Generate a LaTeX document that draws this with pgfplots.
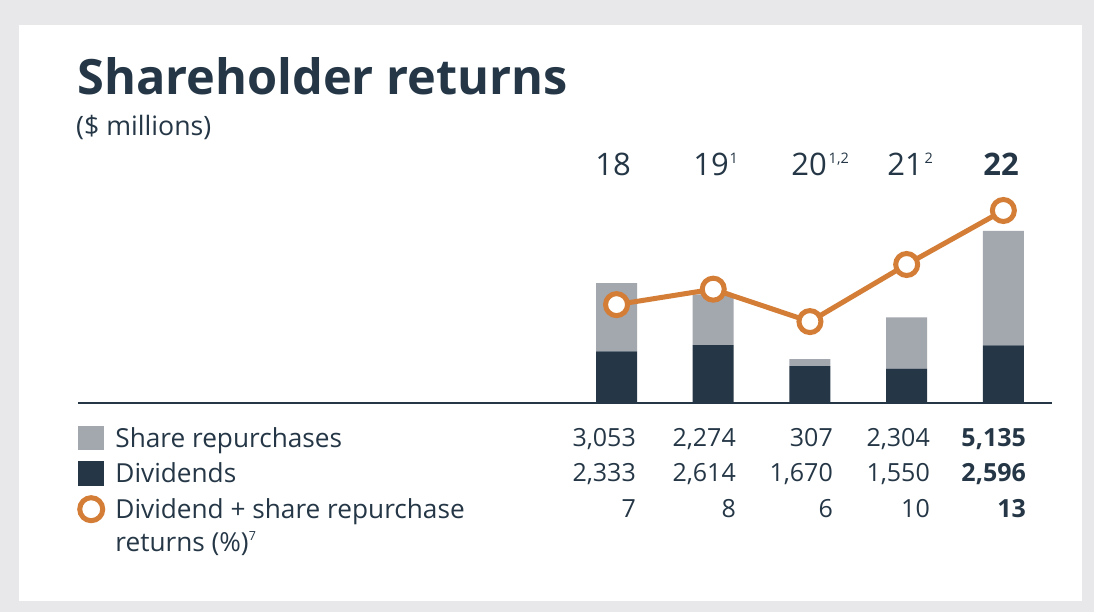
\documentclass[border=0pt]{standalone}
\usepackage{fontspec}
\setmainfont{Open Sans}
\usepackage{pgfplots}
\pgfplotsset{compat=1.18}

\definecolor{navy}{HTML}{253746}
\definecolor{barGrey}{HTML}{A3A7AE}
\definecolor{accent}{HTML}{D37D36}
\definecolor{bg}{HTML}{E8E8EA}

% small raised superscript: size, raise, text
\newcommand\sups[3]{\raisebox{#2}{\fontsize{#1}{#1}\selectfont #3}}

\begin{document}
\begin{tikzpicture}[x=1pt,y=1pt]
  % page and panel
  \fill[bg] (0,0) rectangle (1094,612);
  \fill[white] (19,11) rectangle (1082,587);

  % title
  \node[anchor=base west, inner sep=0, text=navy,
        font=\fontsize{48.7}{50}\selectfont\bfseries] at (77,517) {Shareholder returns};
  \node[anchor=base west, inner sep=0, text=navy,
        font=\fontsize{26.7}{30}\selectfont] at (76,476) {(\$ millions)};

  % bars: dividends + share repurchases ($ millions)
  \begin{axis}[
      at={(78pt,208.7pt)}, anchor=south west,
      scale only axis,
      width=973.7pt, height=263pt,
      xmin=-5.569, xmax=4.5,
      ymin=0, ymax=11794,
      ybar stacked,
      bar width=41pt,
      axis x line*=bottom,
      axis y line=none,
      xtick=\empty, ytick=\empty,
      x axis line style={navy, line width=2pt, -},
      clip=false,
      legend cell align=left,
      legend style={
        at={(axis description cs:-0.001,-0.0673)}, anchor=north west,
        draw=none, fill=none, inner sep=0pt,
        column sep=0pt, row sep=1.5pt,
        nodes={inner sep=0pt, text height=26pt, text depth=8pt,
               font=\fontsize{26.2}{33}\selectfont, text=navy},
      },
    ]

    % Dividends
    \addplot[fill=navy, draw=none, forget plot] coordinates {
        (0, 2333)
        (1, 2614)
        (2, 1670)
        (3, 1550)
        (4, 2596)
      };

    % Share repurchases
    \addplot[fill=barGrey, draw=none, forget plot] coordinates {
        (0, 3053)
        (1, 2274)
        (2, 307)
        (3, 2304)
        (4, 5135)
      };

    \addlegendimage{legend image code/.code={
        \fill[barGrey] (0pt,-11.5pt) rectangle (25pt,11.5pt);
        \path (37pt,0pt);}}
    \addlegendimage{legend image code/.code={
        \fill[navy] (0pt,-12pt) rectangle (25pt,12pt);
        \path (37pt,0pt);}}
    \addlegendimage{legend image code/.code={
        \draw[accent, line width=5pt, fill=white] (13pt,0pt) circle (11.5pt);
        \path (37pt,0pt);}}
    \legend{Share repurchases, Dividends,
      {\begin{tabular}[t]{@{}l@{}}Dividend + share repurchase\\
       returns (\%)\sups{12.5}{11pt}{7}\end{tabular}}}
  \end{axis}

  % dividend + share repurchase returns (%)
  \begin{axis}[
      at={(78pt,208.7pt)}, anchor=south west,
      scale only axis,
      width=973.7pt, height=263pt,
      xmin=-5.569, xmax=4.5,
      ymin=0.705, ymax=17.75,
      hide axis,
      clip=false,
    ]
    \addplot[accent, line width=5pt, mark=*, mark size=11pt,
             mark options={fill=white, draw=accent, line width=5pt}]
      coordinates {
        (0, 7.1)
        (1, 8.1)
        (2, 6.0)
        (3, 9.7)
        (4, 13.2)
      };
  \end{axis}

  % year labels
  \begin{scope}[every node/.style={anchor=base, inner sep=0, text=navy,
                font=\fontsize{31}{31}\selectfont}]
    \node at (613,436) {18};
    \node at (711,436) {19\rlap{\hspace{1pt}\sups{14.5}{12pt}{1}}};
    \node at (809,436) {20\rlap{\hspace{2pt}\sups{14.5}{12pt}{1,2}}};
    \node at (905,436) {21\rlap{\hspace{2pt}\sups{14.5}{12pt}{2}}};
    \node[font=\fontsize{31}{31}\selectfont\bfseries] at (1001,436) {22};
  \end{scope}

  % values table
  \begin{scope}[every node/.style={anchor=base east, inner sep=0, text=navy,
                font=\fontsize{25}{30}\selectfont}]
    \node at (636,165) {3,053};
    \node at (736,165) {2,274};
    \node at (833,165) {307};
    \node at (930,165) {2,304};
    \node[font=\fontsize{25}{30}\selectfont\bfseries] at (1026,165) {5,135};

    \node at (636,130) {2,333};
    \node at (736,130) {2,614};
    \node at (833,130) {1,670};
    \node at (930,130) {1,550};
    \node[font=\fontsize{25}{30}\selectfont\bfseries] at (1026,130) {2,596};

    \node at (636,94) {7};
    \node at (736,94) {8};
    \node at (833,94) {6};
    \node at (930,94) {10};
    \node[font=\fontsize{25}{30}\selectfont\bfseries] at (1026,94) {13};
  \end{scope}
\end{tikzpicture}
\end{document}
